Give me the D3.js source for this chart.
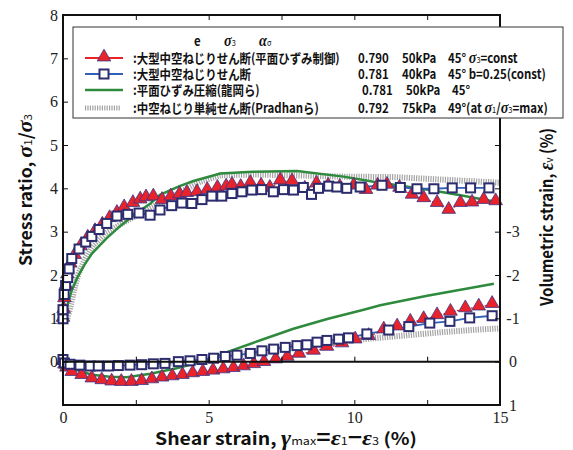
<!DOCTYPE html>
<html>
<head>
<meta charset="utf-8">
<script src="https://cdn.jsdelivr.net/npm/d3@7"></script>
<style>
  body { margin: 0; background: #fff; }
  svg { display: block; }
</style>
</head>
<body>
<svg></svg>
<script>
//data (shear strain %, value)
const triStress = [[0,1.0],[0.02,1.2],[0.05,1.45],[0.1,1.75],[0.15,2.0],[0.25,2.25],[0.4,2.45],[0.6,2.65],[0.85,2.85],[1.1,3.0],[1.35,3.15],[1.6,3.3],[1.85,3.42],[2.1,3.55],[2.4,3.65],[2.65,3.73],[2.85,3.78],[3.1,3.8],[3.4,3.72],[3.7,3.8],[4.0,3.85],[4.25,3.88],[4.6,3.9],[4.95,3.95],[5.3,4.0],[5.6,4.03],[5.8,4.07],[6.1,4.02],[6.43,4.11],[6.8,4.05],[7.1,4.0],[7.46,4.17],[7.86,4.15],[8.3,3.98],[8.7,4.1],[9.1,4.05],[9.5,4.02],[9.98,4.05],[10.4,3.95],[10.8,4.05],[11.12,4.07],[11.55,4.0],[11.98,3.84],[12.38,3.76],[12.84,3.65],[13.24,3.49],[13.64,3.65],[14.04,3.66],[14.44,3.72],[14.85,3.69]];
const triVol = [[0,0],[0.05,0.08],[0.12,0.15],[0.3,0.25],[0.64,0.32],[0.99,0.4],[1.33,0.44],[1.67,0.47],[2.0,0.48],[2.35,0.48],[2.7,0.46],[3.05,0.42],[3.4,0.38],[3.75,0.35],[4.1,0.32],[4.45,0.28],[4.8,0.25],[5.15,0.22],[5.5,0.19],[5.85,0.16],[6.2,0.12],[6.55,0.07],[6.9,0.02],[7.3,-0.04],[7.7,-0.1],[8.1,-0.17],[8.6,-0.24],[9.06,-0.33],[9.58,-0.41],[10.03,-0.5],[10.49,-0.58],[11.01,-0.73],[11.47,-0.8],[11.92,-0.91],[12.38,-0.97],[12.84,-1.06],[13.3,-1.14],[13.81,-1.22],[14.27,-1.26],[14.73,-1.32]];
const sqStress = [[0,0.99],[0,1.2],[0.04,1.55],[0.09,1.76],[0.16,1.94],[0.21,2.14],[0.3,2.38],[0.55,2.6],[0.78,2.76],[0.99,2.89],[1.24,3.05],[1.5,3.19],[1.85,3.36],[2.22,3.4],[2.61,3.43],[2.99,3.38],[3.33,3.5],[3.73,3.6],[4.08,3.66],[4.42,3.65],[4.77,3.74],[5.11,3.82],[5.45,3.82],[5.8,3.88],[6.14,3.92],[6.48,3.96],[6.82,3.97],[7.22,3.92],[7.57,3.97],[7.91,3.96],[8.25,4.02],[8.53,3.86],[8.77,4.0],[9.12,4.05],[9.4,4.03],[9.74,4.0],[10.2,4.03],[10.95,4.07],[11.58,4.02],[12.15,3.99],[12.73,3.99],[13.36,4.01],[13.99,4.01],[14.62,4.01]];
const sqVol = [[0,-0.05],[0.05,0.03],[0.24,0.06],[0.58,0.08],[0.93,0.1],[1.21,0.1],[1.56,0.1],[1.9,0.09],[2.3,0.08],[2.7,0.07],[3.1,0.05],[3.5,0.04],[3.96,0.0],[4.36,-0.02],[4.77,-0.05],[5.17,-0.08],[5.57,-0.12],[5.97,-0.15],[6.43,-0.19],[6.83,-0.25],[7.23,-0.29],[7.63,-0.33],[8.03,-0.37],[8.37,-0.39],[8.72,-0.45],[9.06,-0.49],[9.46,-0.52],[9.8,-0.55],[10.43,-0.64],[11.18,-0.73],[11.87,-0.81],[12.59,-0.89],[13.28,-0.93],[13.96,-1.01],[14.73,-1.06]];
const psStress = [[0.05,1.0],[0.15,1.3],[0.3,1.65],[0.5,1.95],[0.75,2.25],[1.0,2.5],[1.5,2.85],[2.0,3.15],[2.5,3.42],[3.0,3.65],[3.33,3.85],[4.0,4.05],[4.48,4.17],[5.4,4.34],[6.5,4.38],[8.03,4.4],[9.63,4.27],[10.66,4.15],[11.6,4.06],[12.7,3.95],[13.64,3.84],[14.85,3.69]];
const psVol = [[0,0],[0.5,0.2],[1,0.3],[1.6,0.35],[2.19,0.36],[3,0.28],[3.9,0.15],[4.8,0.0],[5.63,-0.22],[6.8,-0.5],[7.91,-0.76],[9.1,-0.99],[10.32,-1.2],[10.89,-1.3],[12.5,-1.52],[14.79,-1.8]];
const ssStress = [[0.15,1.0],[0.24,1.22],[0.4,1.7],[0.53,2.03],[0.76,2.38],[1.04,2.69],[1.44,2.95],[2.02,3.19],[2.6,3.4],[3.3,3.65],[4.0,3.9],[4.7,4.15],[5.4,4.3],[6.5,4.32],[7.9,4.3],[9.63,4.27],[11.34,4.26],[13.06,4.2],[15,4.13]];
const ssVol = [[0,0],[0.3,0.08],[1,0.12],[2,0.12],[3,0.08],[4,0.02],[5,-0.06],[6,-0.15],[7,-0.25],[8,-0.35],[9,-0.44],[10,-0.5],[11,-0.56],[12,-0.62],[13,-0.68],[14,-0.73],[15,-0.77]];

//tick labels
const xTicks = [0, 2.5, 5, 7.5, 10, 12.5, 15];
const xLabels = [0, 5, 10, 15];
const leftTicks = [-1, 0, 1, 2, 3, 4, 5, 6, 7, 8];
const rightTicks = [1, 0, -1, -2, -3, -4, -5, -6, -7, -8];
const rightLabels = [1, 0, -1, -2, -3];

//legend
const legendNames = [":大型中空ねじりせん断(平面ひずみ制御)", ":大型中空ねじりせん断", ":平面ひずみ圧縮(龍岡ら)", ":中空ねじり単純せん断(Pradhanら)"];
const legendE = ["0.790", "0.781", "0.781", "0.792"];
const legendS3 = ["50kPa", "40kPa", "50kPa", "75kPa"];
const legendAlpha = [
    [["45° "], ["σ", "sym"], ["3", "sub"], ["=const"]],
    [["45° b=0.25(const)"]],
    [["45°"]],
    [["49°(at "], ["σ", "sym"], ["1", "sub"], ["/"], ["σ", "sym"], ["3", "sub"], ["=max)"]]
];

//constants
const width = 573, height = 450;
const frame = {left: 63, right: 500, top: 15, bottom: 405};
const jp = "'Noto Sans CJK JP', 'Noto Sans', sans-serif";
const serif = "'Liberation Serif', 'DejaVu Serif', serif";
const red = "#e8232b", blue = "#2f5fb6", navy = "#2c2c6e", green = "#2e8a3c", gray = "#a3a3a3";

//scales
const xScale = d3.scaleLinear().domain([0, 15]).range([frame.left, frame.right]);
const yLeft = d3.scaleLinear().domain([-1, 8]).range([frame.bottom, frame.top]);
const yRight = d3.scaleLinear().domain([1, -8]).range([frame.bottom, frame.top]);

const svg = d3.select("svg")
    .attr("width", width)
    .attr("height", height)
    .style("background-color", "#fff");

//rich text helper
function rich(sel, parts, size) {
    parts.forEach(p => {
        const t = sel.append("tspan").text(p[0]);
        if (p[1] === "sym") t.style("font-family", serif).style("font-style", "italic").style("font-weight", "bold").style("font-size", (size * 1.25) + "px");
        if (p[1] === "sub") t.style("font-size", (size * 0.65) + "px").style("font-weight", 400);
        if (p[1] === "big") t.style("font-size", (size * 1.25) + "px").style("font-weight", "bold");
    });
}

//lines
const lineS = d3.line().x(d => xScale(d[0])).y(d => yLeft(d[1]));
const lineV = d3.line().x(d => xScale(d[0])).y(d => yRight(d[1]));

const plot = svg.append("g");

[ssStress, ssVol].forEach((d, i) => {
    plot.append("path")
        .attr("d", i === 0 ? lineS(d) : lineV(d))
        .attr("fill", "none")
        .attr("stroke", gray)
        .attr("stroke-width", 6)
        .attr("stroke-dasharray", "1.2,1.2");
});

[psStress, psVol].forEach((d, i) => {
    plot.append("path")
        .attr("d", i === 0 ? lineS(d) : lineV(d))
        .attr("fill", "none")
        .attr("stroke", green)
        .attr("stroke-width", 2.5);
});

[triStress, triVol].forEach((d, i) => {
    plot.append("path")
        .attr("d", i === 0 ? lineS(d) : lineV(d))
        .attr("fill", "none")
        .attr("stroke", red)
        .attr("stroke-width", 1.3)
        .attr("stroke-dasharray", "2,1.5");
});

[sqStress, sqVol].forEach((d, i) => {
    plot.append("path")
        .attr("d", i === 0 ? lineS(d) : lineV(d))
        .attr("fill", "none")
        .attr("stroke", blue)
        .attr("stroke-width", 1.8);
});

//markers
const tri = d3.symbol().type(d3.symbolTriangle).size(80);

[[triStress, yLeft], [triVol, yRight]].forEach(([d, ys]) => {
    plot.append("g")
        .selectAll("path")
        .data(d)
        .enter()
        .append("path")
        .attr("d", tri)
        .attr("transform", p => "translate(" + xScale(p[0]) + "," + (ys(p[1]) - 1) + ")")
        .attr("fill", red)
        .attr("stroke", "#3b3487")
        .attr("stroke-width", 0.8);
});

[[sqStress, yLeft], [sqVol, yRight]].forEach(([d, ys]) => {
    plot.append("g")
        .selectAll("rect")
        .data(d)
        .enter()
        .append("rect")
        .attr("x", p => xScale(p[0]) - 4.5)
        .attr("y", p => ys(p[1]) - 4.5)
        .attr("width", 9)
        .attr("height", 9)
        .attr("fill", "#fff")
        .attr("stroke", navy)
        .attr("stroke-width", 2);
});

//frame
svg.append("rect")
    .attr("x", frame.left)
    .attr("y", frame.top)
    .attr("width", frame.right - frame.left)
    .attr("height", frame.bottom - frame.top)
    .attr("fill", "none")
    .attr("stroke", "#111")
    .attr("stroke-width", 2);

//zero line
svg.append("line")
    .attr("x1", frame.left).attr("x2", frame.right)
    .attr("y1", yLeft(0)).attr("y2", yLeft(0))
    .attr("stroke", "#111")
    .attr("stroke-width", 2);

svg.append("g")
    .attr("transform", "translate(0," + yLeft(0) + ")")
    .call(d3.axisTop(xScale).tickValues(xTicks.slice(1, -1)).tickSize(5).tickFormat(""))
    .call(g => g.select(".domain").remove());

//axes
function styleAxis(g) {
    g.select(".domain").remove();
    g.selectAll(".tick line").attr("stroke", "#111").attr("stroke-width", 1);
    g.selectAll("text").style("font-family", serif).style("font-size", "16px").attr("fill", "#222");
}

svg.append("g")
    .attr("transform", "translate(0," + frame.bottom + ")")
    .call(d3.axisBottom(xScale).tickValues(xTicks).tickSize(-5).tickPadding(7)
        .tickFormat(d => xLabels.includes(d) ? String(d) : ""))
    .call(styleAxis);

svg.append("g")
    .attr("transform", "translate(0," + frame.top + ")")
    .call(d3.axisTop(xScale).tickValues(xTicks).tickSize(-5).tickFormat(""))
    .call(styleAxis);

svg.append("g")
    .attr("transform", "translate(" + frame.left + ",0)")
    .call(d3.axisLeft(yLeft).tickValues(leftTicks).tickSize(-5).tickPadding(5)
        .tickFormat(d => d >= 0 ? String(d) : ""))
    .call(styleAxis);

svg.append("g")
    .attr("transform", "translate(" + frame.right + ",0)")
    .call(d3.axisRight(yRight).tickValues(rightTicks).tickSize(-5)
        .tickFormat(d => rightLabels.includes(d) ? String(d) : ""))
    .call(styleAxis)
    .call(g => g.selectAll("text").attr("x", 13).attr("text-anchor", "middle"));

//axes labels
function title(transform, len, parts) {
    const t = svg.append("text")
        .attr("transform", transform)
        .attr("text-anchor", "middle")
        .attr("textLength", len)
        .attr("lengthAdjust", "spacingAndGlyphs")
        .style("font-family", jp)
        .style("font-size", "17px")
        .style("font-weight", 700)
        .attr("fill", "#111");
    rich(t, parts, 17);
}

title("translate(286,445)", 262,
    [["Shear strain,  "], ["γ", "sym"], ["max", "sub"], ["=", "big"], ["ε", "sym"], ["1", "sub"], ["−", "big"], ["ε", "sym"], ["3", "sub"], [" (%)"]]);
title("translate(32,190) rotate(-90)", 152,
    [["Stress ratio, "], ["σ", "sym"], ["1", "sub"], ["/"], ["σ", "sym"], ["3", "sub"]]);
title("translate(553,217) rotate(-90)", 178,
    [["Volumetric strain, "], ["ε", "sym"], ["v", "sub"], [" (%)"]]);

//legend
const legend = svg.append("g");

legend.append("rect")
    .attr("x", 73).attr("y", 27)
    .attr("width", 490).attr("height", 91)
    .attr("fill", "#fff")
    .attr("stroke", "#333")
    .attr("stroke-width", 1);

function legendText(x, y, parts) {
    const t = legend.append("text")
        .attr("transform", "translate(" + x + "," + y + ") scale(0.88,1)")
        .style("font-family", jp)
        .style("font-size", "13px")
        .style("font-weight", 600)
        .attr("fill", "#111");
    rich(t, parts, 13);
}

legendText(194, 46, [["e"]]);
legendText(224, 46, [["σ", "sym"], ["3", "sub"]]);
legendText(259, 46, [["α", "sym"], ["σ", "sub"]]);

const rowY = [58, 74, 90, 108];
const valShift = [0, 0, 4, 0];

rowY.forEach((y, i) => {
    legendText(133, y + 5, [[legendNames[i]]]);
    legendText(358 + valShift[i], y + 5, [[legendE[i]]]);
    legendText(402 + valShift[i], y + 5, [[legendS3[i]]]);
    legendText(448 + valShift[i], y + 5, legendAlpha[i]);
});

legend.append("line").attr("x1", 85).attr("x2", 123).attr("y1", rowY[0]).attr("y2", rowY[0])
    .attr("stroke", red).attr("stroke-width", 1.8);
legend.append("path").attr("d", tri).attr("transform", "translate(104," + (rowY[0] - 1) + ")")
    .attr("fill", red).attr("stroke", "#3b3487").attr("stroke-width", 0.8);

legend.append("line").attr("x1", 85).attr("x2", 123).attr("y1", rowY[1]).attr("y2", rowY[1])
    .attr("stroke", blue).attr("stroke-width", 1.8);
legend.append("rect").attr("x", 99.5).attr("y", rowY[1] - 4.5).attr("width", 9).attr("height", 9)
    .attr("fill", "#fff").attr("stroke", navy).attr("stroke-width", 2);

legend.append("line").attr("x1", 85).attr("x2", 123).attr("y1", rowY[2]).attr("y2", rowY[2])
    .attr("stroke", green).attr("stroke-width", 2.5);

legend.append("line").attr("x1", 85).attr("x2", 121).attr("y1", rowY[3]).attr("y2", rowY[3])
    .attr("stroke", gray).attr("stroke-width", 5).attr("stroke-dasharray", "1.2,1.2");
</script>
</body>
</html>
